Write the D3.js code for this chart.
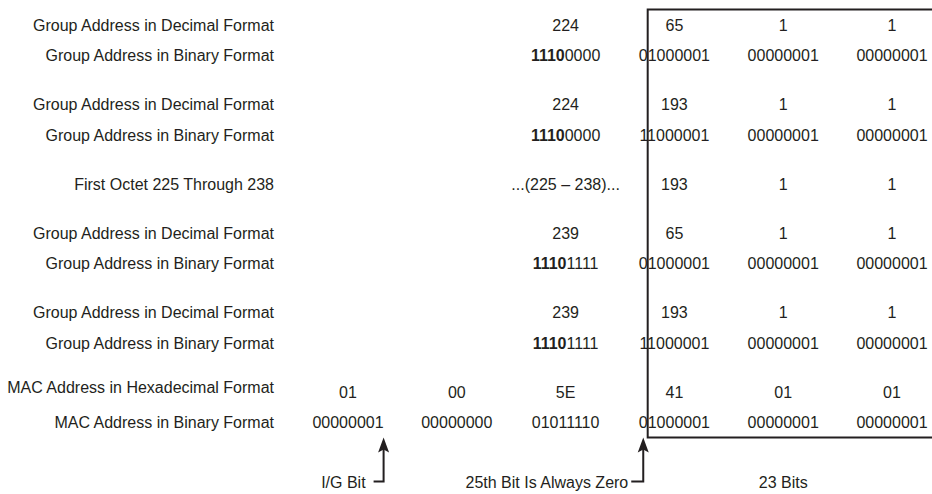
<!DOCTYPE html>
<html>
<head>
<meta charset="utf-8">
<script src="https://cdn.jsdelivr.net/npm/d3@7"></script>
<style>
  body { margin: 0; background: #fff; }
  text { font-family: "Liberation Sans", Arial, Helvetica, sans-serif; font-size: 16px; fill: #231f20; }
</style>
</head>
<body>
<script>
const width = 932
const height = 494

// row labels, grouped in blocks
const rowLabels = [
  'Group Address in Decimal Format',
  'Group Address in Binary Format',
  'Group Address in Decimal Format',
  'Group Address in Binary Format',
  'First Octet 225 Through 238',
  'Group Address in Decimal Format',
  'Group Address in Binary Format',
  'Group Address in Decimal Format',
  'Group Address in Binary Format',
  'MAC Address in Hexadecimal Format',
  'MAC Address in Binary Format'
]
const groupSizes = [2, 2, 1, 2, 2, 2]

// six octet columns per row
const octets = [
  ['', '', '224', '65', '1', '1'],
  ['', '', '11100000', '01000001', '00000001', '00000001'],
  ['', '', '224', '193', '1', '1'],
  ['', '', '11100000', '11000001', '00000001', '00000001'],
  ['', '', '...(225 \u2013 238)...', '193', '1', '1'],
  ['', '', '239', '65', '1', '1'],
  ['', '', '11101111', '01000001', '00000001', '00000001'],
  ['', '', '239', '193', '1', '1'],
  ['', '', '11101111', '11000001', '00000001', '00000001'],
  ['01', '00', '5E', '41', '01', '01'],
  ['00000001', '00000000', '01011110', '01000001', '00000001', '00000001']
]
// how many leading bits are drawn bold (the 1110 class D prefix)
const boldPrefix = [0, 4, 0, 4, 0, 0, 4, 0, 4, 0, 0]

const notes = ['I/G Bit', '25th Bit Is Always Zero', '23 Bits']

let svg = d3.select('body').append('svg')
  .attr('width', width)
  .attr('height', height)

// scales
let xScale = d3.scalePoint().domain(d3.range(6)).range([348, 892])
let labelX = 274
let lineStep = 30.5
let groupGap = 18.5

let rowY = []
let y = 25
groupSizes.forEach(n => {
  for (let i = 0; i < n; i++) {
    rowY.push(y)
    y += lineStep
  }
  y += groupGap
})

// labels
svg.selectAll('text.label')
  .data(rowLabels)
  .enter()
  .append('text')
  .attr('class', 'label')
  .attr('x', labelX)
  .attr('y', (d, i) => rowY[i] - (i === 9 ? 5 : 0))
  .attr('dy', '0.35em')
  .attr('text-anchor', 'end')
  .text(d => d)

// octet cells
let rows = svg.selectAll('g.row')
  .data(octets)
  .enter()
  .append('g')
  .attr('class', 'row')
  .attr('transform', (d, i) => `translate(0,${rowY[i]})`)

let cells = rows.selectAll('text')
  .data((d, i) => d.map((v, c) => ({ v, c, bold: c === 2 ? boldPrefix[i] : 0 })).filter(d => d.v !== ''))
  .enter()
  .append('text')
  .attr('x', d => xScale(d.c))
  .attr('dy', '0.35em')
  .attr('text-anchor', 'middle')

cells.filter(d => d.bold > 0)
  .append('tspan')
  .attr('font-weight', 'bold')
  .text(d => d.v.slice(0, d.bold))
cells.append('tspan')
  .text(d => d.v.slice(d.bold))

// measure where bit 25 starts in the last row
let lastRow = rows.filter((d, i) => i === octets.length - 1)
let col3 = lastRow.selectAll('text').filter(d => d.c === 3).node()
let col0 = lastRow.selectAll('text').filter(d => d.c === 0).node()
let boxX = col3.getStartPositionOfChar(1).x
let bit25X = (col3.getStartPositionOfChar(0).x + boxX) / 2
let igX = col0.getEndPositionOfChar(7).x

let boxTop = rowY[0] - 15.5
let boxBottom = rowY[rowY.length - 1] + 15

svg.append('path')
  .attr('d', `M${width + 2},${boxTop}H${boxX}V${boxBottom}H${width + 2}`)
  .attr('fill', 'none')
  .attr('stroke', '#231f20')
  .attr('stroke-width', 2)

// arrows
let noteY = rowY[rowY.length - 1] + 60
let arrows = [
  { x: igX, hook: 10 },
  { x: bit25X, hook: 12 }
]
let tipY = boxBottom
arrows.forEach(a => {
  svg.append('path')
    .attr('d', `M${a.x},${tipY + 8}V${noteY - 1}H${a.x - a.hook}`)
    .attr('fill', 'none')
    .attr('stroke', '#231f20')
    .attr('stroke-width', 2)
  svg.append('path')
    .attr('d', `M${a.x},${tipY}L${a.x + 5.5},${tipY + 15}L${a.x},${tipY + 12}L${a.x - 5.5},${tipY + 15}Z`)
    .attr('fill', '#231f20')
})

svg.append('text')
  .attr('x', igX - 18)
  .attr('y', noteY)
  .attr('dy', '0.35em')
  .attr('text-anchor', 'end')
  .text(notes[0])

svg.append('text')
  .attr('x', bit25X - 15)
  .attr('y', noteY)
  .attr('dy', '0.35em')
  .attr('text-anchor', 'end')
  .text(notes[1])

svg.append('text')
  .attr('x', xScale(4))
  .attr('y', noteY)
  .attr('dy', '0.35em')
  .attr('text-anchor', 'middle')
  .text(notes[2])
</script>
</body>
</html>
